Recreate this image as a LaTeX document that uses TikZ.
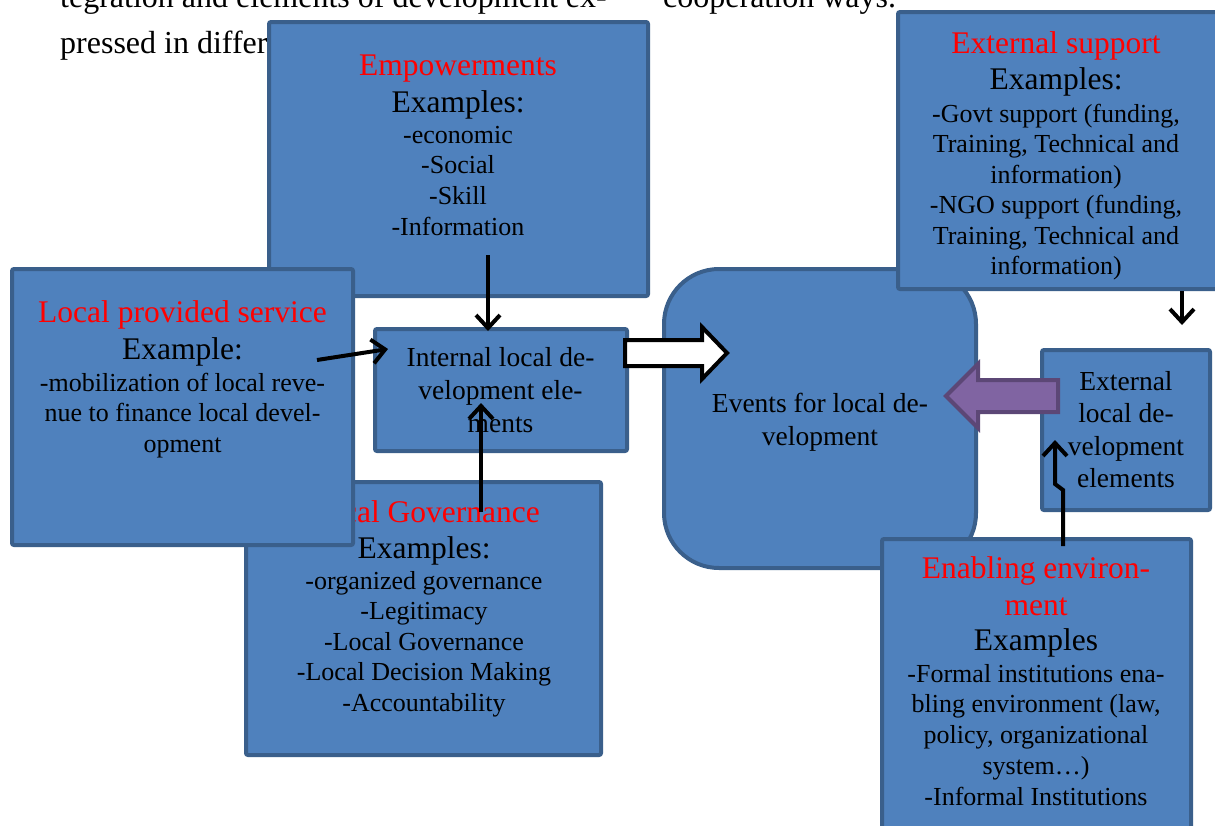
\documentclass[tikz,border=0pt]{standalone}
\usepackage{fontspec}
\setmainfont{Liberation Serif}
\usetikzlibrary{arrows.meta}
\definecolor{boxfill}{HTML}{4F81BD}
\definecolor{boxline}{HTML}{3A5F8B}
\definecolor{purpfill}{HTML}{8064A2}
\definecolor{purpline}{HTML}{5C4776}
\definecolor{titred}{HTML}{FF0000}
\newcommand\boxlines[6]{%
  \foreach \tl [count=\ti] in {#6} {
    \node[#5] (#1-\ti) at (#2,{#3+(\ti-1)*#4}) {\tl};
  }}
\tikzset{
  tit/.style={anchor=base, inner sep=0pt, font=\fontsize{31.5}{37}\selectfont},
  redt/.style={tit, text=titred},
  lst/.style={anchor=base, inner sep=0pt, font=\fontsize{26}{31}\selectfont},
  mid/.style={anchor=base, inner sep=0pt, font=\fontsize{27.5}{33}\selectfont},
  bgtext/.style={anchor=base west, inner sep=0pt, font=\fontsize{32}{38}\selectfont},
  panel/.style={draw=boxline, line width=4pt, fill=boxfill, rounded corners=2pt,
    outer sep=0pt, inner sep=0pt, anchor=north west},
  conn/.style={line width=4pt, draw=black, -{Straight Barb[length=13pt,width=24pt]}},
}
\begin{document}
\begin{tikzpicture}[x=1pt,y=-1pt]
\useasboundingbox (0,0) rectangle (1215,825);

% background document text
\node[bgtext] (bg1) at (60,7) {tegration and elements of development ex-};
\node[bgtext] (bg2) at (663,7) {cooperation ways.};
\node[bgtext] (bg3) at (60,53) {pressed in differ};

% Empowerments
\node[panel, minimum width=379pt, minimum height=274pt] (emp) at (269,22) {};
\node[redt] (empT) at (458,75) {Empowerments};
\node[tit] (empX) at (458,112) {Examples:};
\boxlines{empL}{458}{143}{30.7}{lst}{-economic,-Social,-Skill,-Information}

% Local Governance
\node[panel, minimum width=355pt, minimum height=273pt] (gov) at (246,482) {};
\node[redt] (govT) at (424,522) {Local Governance};
\node[tit] (govX) at (424,558) {Examples:};
\boxlines{govL}{424}{589}{30.5}{lst}{-organized governance,-Legitimacy,-Local Governance,-Local Decision Making,-Accountability}

% Local provided service
\node[panel, minimum width=341pt, minimum height=276pt] (lps) at (12,269) {};
\node[redt] (lpsT) at (182.5,322) {Local provided service};
\node[tit] (lpsX) at (182.5,359) {Example:};
\boxlines{lpsL}{182.5}{391}{30.7}{lst}{-mobilization of local reve-,nue to finance local devel-,opment}

% Internal local development elements
\node[panel, minimum width=252pt, minimum height=122pt] (int) at (375,329) {};
\boxlines{intL}{500.5}{366}{33}{mid}{Internal local de-,velopment ele-,ments}

% Events for local development
\node[panel, rounded corners=55pt, minimum width=312pt, minimum height=299pt] (evt) at (664,269) {};
\boxlines{evtL}{820}{412}{33}{mid}{Events for local de-,velopment}

% External support
\node[panel, minimum width=322pt, minimum height=277pt] (ext) at (898,12) {};
\node[redt] (extT) at (1056,53) {External support};
\node[tit] (extX) at (1056,89) {Examples:};
\boxlines{extL}{1056}{122}{30.5}{lst}{{-Govt support (funding,},{Training, Technical and},information),{-NGO support (funding,},{Training, Technical and},information)}

% External local development elements
\node[panel, minimum width=168pt, minimum height=160pt] (exl) at (1042,350) {};
\boxlines{exlL}{1126}{390}{32.5}{mid}{External,local de-,velopment,elements}

% Enabling environment
\node[panel, minimum width=309pt, minimum height=311pt] (ena) at (882,539) {};
\boxlines{enaT}{1036}{578}{37}{redt}{Enabling environ-,ment}
\node[tit] (enaX) at (1036,650) {Examples};
\boxlines{enaL}{1036}{682}{30.8}{lst}{-Formal institutions ena-,{bling environment (law,},{policy, organizational},system…),-Informal Institutions}

% block arrows
\draw[line width=4pt, draw=black, fill=white, line join=miter]
  (625,340) -- (702,340) -- (702,327) -- (727,353) -- (702,379) -- (702,366) -- (625,366) -- cycle;
\draw[line width=4pt, draw=purpline, fill=purpfill, line join=miter]
  (946,396) -- (978,364) -- (978,380) -- (1058,380) -- (1058,412) -- (978,412) -- (978,428) -- cycle;

% connectors
\coordinate (a1s) at (317,360); \coordinate (a1e) at (388,349);
\coordinate (a2s) at (488,255); \coordinate (a2e) at (488,331);
\coordinate (a3s) at (481,512); \coordinate (a3e) at (481,403);
\coordinate (a4s) at (1182,291); \coordinate (a4e) at (1182,325);
\coordinate (a5s) at (1063,546); \coordinate (a5e) at (1055,440);
\draw[conn] (a1s) -- (a1e);
\draw[conn] (a2s) -- (a2e);
\draw[conn] (a3s) -- (a3e);
\draw[conn] (a4s) -- (a4e);
\draw[conn] (a5s) -- ++(0,-56) -- ++(-8,-6) -- (a5e);
\end{tikzpicture}
\end{document}
